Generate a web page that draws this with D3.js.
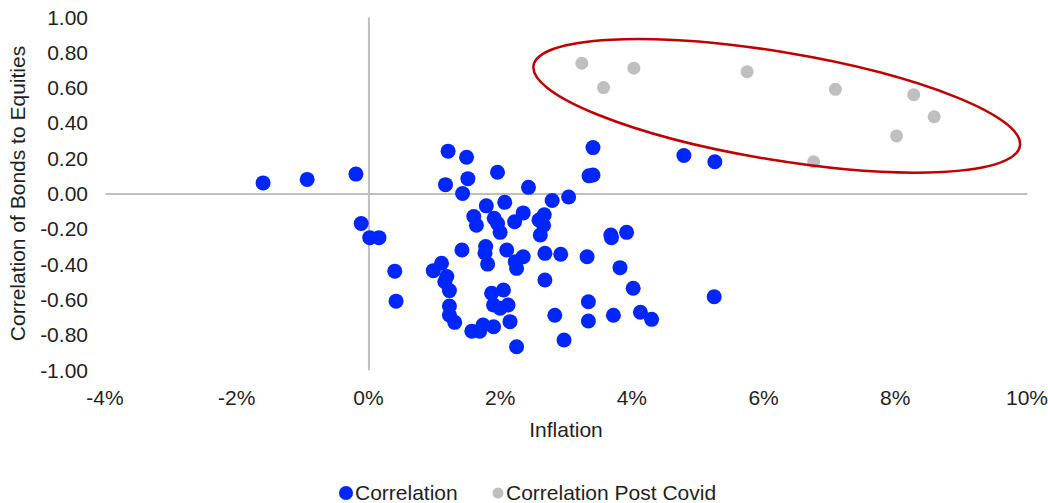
<!DOCTYPE html>
<html>
<head>
<meta charset="utf-8">
<script src="https://cdn.jsdelivr.net/npm/d3@7"></script>
<style>
  html, body { margin: 0; padding: 0; background: #fff; }
  svg { display: block; font-family: "Liberation Sans", Arial, sans-serif; }
</style>
</head>
<body>
<svg id="chart" width="1048" height="503"></svg>
<script>
// ---- data (inflation %, correlation) ----
const xTicks = [-4, -2, 0, 2, 4, 6, 8, 10];
const yTicks = [-1, -0.8, -0.6, -0.4, -0.2, 0, 0.2, 0.4, 0.6, 0.8, 1];
const seriesNames = ["Correlation", "Correlation Post Covid"];

const correlation = [
  [-1.60, 0.06], [-0.93, 0.08], [-0.19, 0.11], [-0.11, -0.17], [0.02, -0.25], [0.16, -0.25],
  [0.40, -0.44], [0.42, -0.61],
  [1.21, 0.24], [1.49, 0.205], [1.51, 0.084], [1.17, 0.05], [1.43, 0.00], [1.96, 0.12],
  [2.43, 0.035], [3.41, 0.26], [3.35, 0.10], [3.41, 0.105], [4.79, 0.215], [5.26, 0.18],
  [2.07, -0.05], [2.79, -0.04], [3.04, -0.02], [1.79, -0.07], [1.60, -0.13], [1.64, -0.18],
  [1.91, -0.14], [1.96, -0.17], [2.00, -0.22], [2.35, -0.11], [2.22, -0.16], [2.67, -0.12],
  [2.59, -0.15], [2.66, -0.18], [2.61, -0.235], [3.68, -0.235], [3.69, -0.25], [3.92, -0.22],
  [1.42, -0.32], [1.78, -0.30], [1.77, -0.337], [2.10, -0.32], [1.11, -0.395], [0.985, -0.437],
  [1.19, -0.47], [1.16, -0.50], [1.23, -0.55], [1.81, -0.40], [2.23, -0.386], [2.25, -0.424],
  [2.35, -0.358], [2.68, -0.339], [2.92, -0.344], [3.32, -0.358], [3.82, -0.42], [2.68, -0.49],
  [4.02, -0.537], [5.25, -0.585],
  [1.23, -0.637], [1.23, -0.688], [1.31, -0.73], [1.57, -0.78], [1.69, -0.78], [1.74, -0.745],
  [1.90, -0.755], [1.87, -0.565], [2.05, -0.547], [1.90, -0.632], [2.00, -0.65], [2.12, -0.632],
  [2.15, -0.726], [2.25, -0.868], [2.83, -0.69], [2.97, -0.83], [3.34, -0.613], [3.34, -0.722],
  [3.72, -0.69], [4.13, -0.673], [4.30, -0.713]
];

const correlationPostCovid = [
  [3.24, 0.738], [4.03, 0.71], [3.57, 0.60], [5.75, 0.69], [7.09, 0.59],
  [8.28, 0.56], [8.59, 0.435], [8.02, 0.326], [6.76, 0.18]
];

// highlight ellipse centre (data units)
const highlightCenter = [6.20, 0.497];

// ---- layout ----
const svg = d3.select("#chart");
const plot = { left: 105, right: 1027, top: 17, bottom: 370 };
const fontSize = 21;
const textColor = "#1f1f1f";
const axisColor = "#bfbfbf";
const blue = "#0026ff";
const gray = "#bfbfbf";

const x = d3.scaleLinear().domain([-4, 10]).range([plot.left, plot.right]);
const y = d3.scaleLinear().domain([-1, 1]).range([plot.bottom, plot.top]);

// axis lines crossing at zero
const xAxis = d3.axisBottom(x).tickValues(xTicks).tickSize(0).tickFormat(() => "");
svg.append("g").attr("transform", `translate(0,${y(0)})`).call(xAxis)
  .call(g => g.select(".domain").attr("stroke", axisColor).attr("stroke-width", 2));
const yAxis = d3.axisLeft(y).tickValues(yTicks).tickSize(0).tickFormat(() => "");
svg.append("g").attr("transform", `translate(${x(0)},0)`).call(yAxis)
  .call(g => g.select(".domain").attr("stroke", axisColor).attr("stroke-width", 2));

// tick labels (hyphen minus, as in the reference)
const fmtY = d => d3.format(".2f")(d).replace("\u2212", "-");
svg.append("g").selectAll("text").data(yTicks).join("text")
  .attr("x", 88).attr("y", d => y(d)).attr("dy", "0.36em")
  .attr("text-anchor", "end").attr("font-size", fontSize).attr("fill", textColor)
  .text(fmtY);

svg.append("g").selectAll("text").data(xTicks).join("text")
  .attr("x", d => x(d)).attr("y", 405)
  .attr("text-anchor", "middle").attr("font-size", fontSize).attr("fill", textColor)
  .text(d => d + "%");

// axis titles
svg.append("text").attr("x", x(3)).attr("y", 437).attr("text-anchor", "middle")
  .attr("font-size", fontSize).attr("fill", textColor).text("Inflation");
svg.append("text")
  .attr("transform", `translate(25,${(plot.top + plot.bottom) / 2}) rotate(-90)`)
  .attr("text-anchor", "middle").attr("font-size", fontSize).attr("fill", textColor)
  .text("Correlation of Bonds to Equities");

// points
svg.append("g").selectAll("circle").data(correlation).join("circle")
  .attr("cx", d => x(d[0])).attr("cy", d => y(d[1])).attr("r", 7.5).attr("fill", blue);
svg.append("g").selectAll("circle").data(correlationPostCovid).join("circle")
  .attr("cx", d => x(d[0])).attr("cy", d => y(d[1])).attr("r", 6.5).attr("fill", gray);

// highlight ellipse
svg.append("ellipse")
  .attr("transform", `translate(${x(highlightCenter[0])},${y(highlightCenter[1])}) rotate(9.4)`)
  .attr("rx", 246.5).attr("ry", 54).attr("fill", "none")
  .attr("stroke", "#c00000").attr("stroke-width", 2.5);

// legend
const legend = svg.append("g");
const legendItems = [
  { name: seriesNames[0], color: blue, r: 7, cx: 346, tx: 355 },
  { name: seriesNames[1], color: gray, r: 5.5, cx: 498, tx: 506 }
];
legendItems.forEach(it => {
  legend.append("circle").attr("cx", it.cx).attr("cy", 493).attr("r", it.r).attr("fill", it.color);
  legend.append("text").attr("x", it.tx).attr("y", 500).attr("font-size", fontSize)
    .attr("fill", textColor).text(it.name);
});
</script>
</body>
</html>
